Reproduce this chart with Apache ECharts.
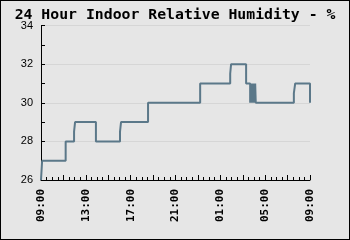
<!DOCTYPE html>
<html>
<head>
<meta charset="utf-8">
<script src="https://cdn.jsdelivr.net/npm/echarts@6/dist/echarts.min.js"></script>
<style>
html,body{margin:0;padding:0;background:#e6e6e6;}
#wrap{position:relative;width:350px;height:240px;}
#chart{width:350px;height:240px;}
#frame{position:absolute;left:0;top:0;width:350px;height:240px;box-sizing:border-box;border:1px solid #000;pointer-events:none;}
</style>
</head>
<body>
<div id="wrap"><div id="chart"></div><div id="frame"></div></div>
<script>
// Hours elapsed since 09:00 at which the reading changes
const hours = [0, 0.1, 2.2, 2.95, 3.04, 4.9, 7.05, 7.14, 9.55, 14.2, 16.88, 16.96, 18.3,
  18.66, 18.71, 18.76, 18.81, 18.86, 18.91, 18.96, 19.01, 19.06, 19.11, 19.16, 19.2,
  22.56, 22.68, 24];
// Relative humidity (%) from that moment on
const humidity = [26, 27, 28, 28.5, 29, 28, 28.5, 29, 30, 31, 31.5, 32, 31,
  30, 31, 30, 31, 30, 31, 30, 31, 30, 31, 30, 30,
  30.5, 31, 30];
// Tick labels every 4 hours
const timeLabels = ['09:00', '13:00', '17:00', '21:00', '01:00', '05:00', '09:00'];

const data = hours.map((h, i) => [h, humidity[i]]);

const chart = echarts.init(document.getElementById('chart'), null, {renderer: 'canvas'});
chart.setOption({
  animation: false,
  backgroundColor: '#e6e6e6',
  title: {
    text: '24 Hour Indoor Relative Humidity - %',
    left: 'center',
    top: 3,
    textStyle: {fontFamily: 'DejaVu Sans Mono', fontWeight: 'bold', fontSize: 14.8, color: '#000'}
  },
  grid: {left: 41, right: 40, top: 25.5, bottom: 60},
  xAxis: {
    type: 'value',
    min: 0, max: 24, interval: 2,
    axisLine: {show: true, lineStyle: {color: '#000', width: 1}},
    axisTick: {show: true, inside: true, length: 5, lineStyle: {color: '#000'}},
    minorTick: {show: true, splitNumber: 4, length: 3, lineStyle: {color: '#000'}},
    splitLine: {show: false},
    axisLabel: {
      rotate: 90, margin: 9,
      fontFamily: 'DejaVu Sans Mono', fontWeight: 'bold', fontSize: 11, color: '#000',
      formatter: v => (v % 4 === 0 ? timeLabels[v / 4] : '')
    }
  },
  yAxis: {
    type: 'value',
    min: 26, max: 34, interval: 2,
    axisLine: {show: true, lineStyle: {color: '#000', width: 1}},
    axisTick: {show: true, inside: true, length: 4, lineStyle: {color: '#000'}},
    minorTick: {show: true, splitNumber: 2, length: 4, lineStyle: {color: '#000'}},
    splitLine: {show: true, lineStyle: {color: '#d6d6d6', width: 1}},
    axisLabel: {margin: 8, fontFamily: 'Liberation Sans', fontSize: 11, color: '#000'}
  },
  series: [{
    type: 'line',
    data: data,
    step: 'end',
    showSymbol: false,
    lineStyle: {color: '#5b7889', width: 2},
    itemStyle: {color: '#5b7889'}
  }]
});
</script>
</body>
</html>
